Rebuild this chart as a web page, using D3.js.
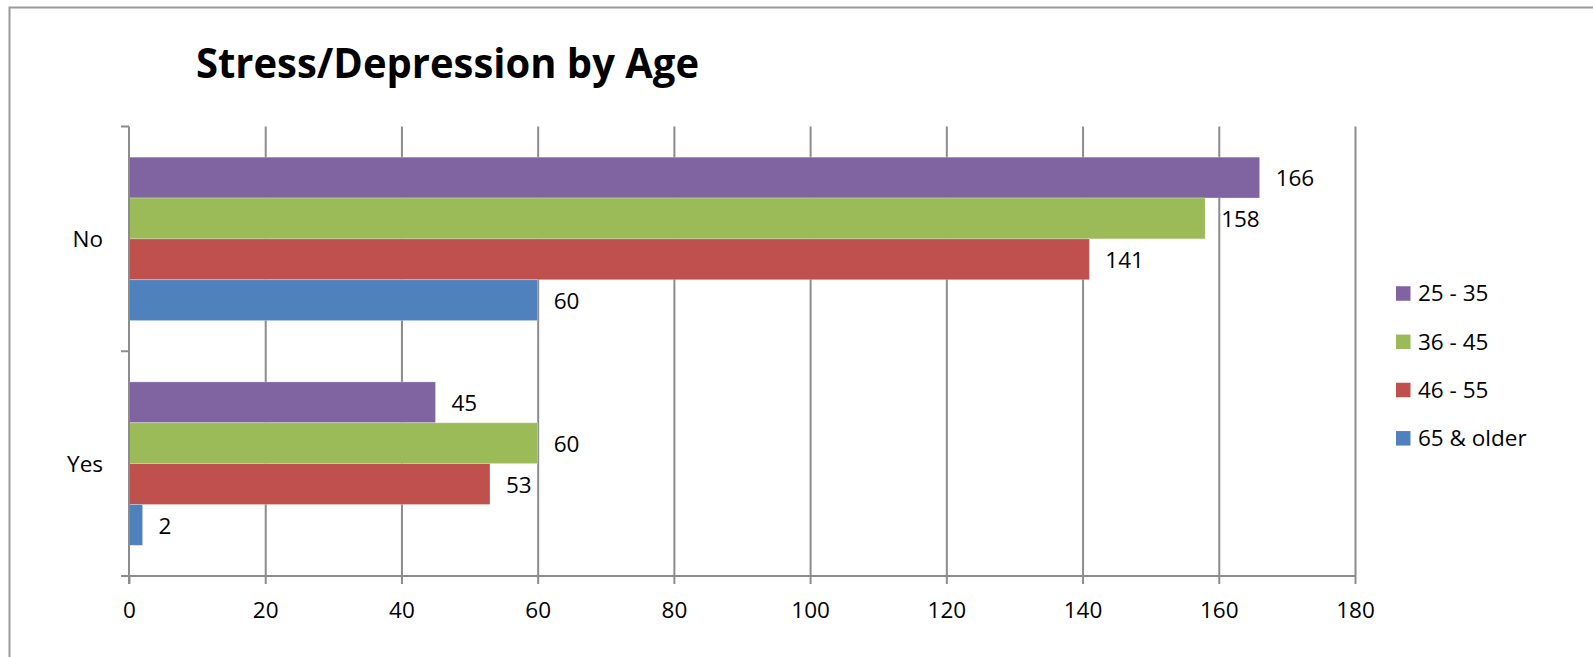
<!DOCTYPE html>
<html>
<head>
<meta charset="utf-8">
<script src="https://cdn.jsdelivr.net/npm/d3@7"></script>
<style>
  html, body { margin: 0; padding: 0; background: #fff; }
  svg { display: block; }
  text { font-family: "Open Sans", "DejaVu Sans", sans-serif; fill: #000; }
</style>
</head>
<body>
<svg id="chart" width="1593" height="657"></svg>
<script>
const title = "Stress/Depression by Age";
const categories = ["No", "Yes"];
const seriesNames = ["25 - 35", "36 - 45", "46 - 55", "65 & older"];
const seriesColors = ["#8064A2", "#9BBB59", "#C0504D", "#4F81BD"];
const values_25_35 = [166, 45];
const values_36_45 = [158, 60];
const values_46_55 = [141, 53];
const values_65_older = [60, 2];
const xTicks = [0, 20, 40, 60, 80, 100, 120, 140, 160, 180];

const seriesValues = [values_25_35, values_36_45, values_46_55, values_65_older];

const W = 1593, H = 657;
const FS = 22.5;
const plot = { left: 129, right: 1355, top: 126.5, bottom: 576 };
const svg = d3.select("#chart");

svg.append("rect").attr("width", W).attr("height", H).attr("fill", "#fff");

// outer frame (top and left edges visible)
svg.append("path")
  .attr("d", `M9.5,${H} L9.5,7.5 L${W},7.5`)
  .attr("fill", "none").attr("stroke", "#9a9a9a").attr("stroke-width", 2);

// title
const t = svg.append("text")
  .attr("x", 196).attr("y", 78)
  .attr("font-weight", "bold").attr("font-size", 41)
  .text(title);
const tw = t.node().getComputedTextLength();
if (Math.abs(tw - 503) > 6) t.attr("textLength", 503).attr("lengthAdjust", "spacingAndGlyphs");

const x = d3.scaleLinear().domain([0, 180]).range([plot.left, plot.right]);
const y = d3.scaleBand().domain(categories).range([plot.top, plot.bottom]);
const barH = y.bandwidth() / 5.5;
const inner = d3.scaleBand().domain(seriesNames)
  .range([0.75 * barH, 0.75 * barH + 4 * barH]);

const gridColor = "#8c8c8c";

// vertical gridlines
svg.append("g")
  .attr("transform", `translate(0,${plot.bottom})`)
  .call(d3.axisBottom(x).tickValues(xTicks.slice(1)).tickSize(-(plot.bottom - plot.top)).tickFormat(""))
  .call(g => g.select(".domain").remove())
  .call(g => g.selectAll("line").attr("stroke", gridColor).attr("stroke-width", 2));

// bars
seriesNames.forEach((s, si) => {
  svg.append("g").selectAll("rect")
    .data(categories.map((c, ci) => ({ c, v: seriesValues[si][ci] })))
    .join("rect")
    .attr("x", x(0))
    .attr("y", d => y(d.c) + inner(s))
    .attr("width", d => x(d.v) - x(0))
    .attr("height", inner.bandwidth())
    .attr("fill", seriesColors[si])
    .attr("stroke", "rgba(255,255,255,0.35)")
    .attr("stroke-width", 0.8);
});

// x axis
const xAxis = svg.append("g")
  .attr("transform", `translate(0,${plot.bottom})`)
  .call(d3.axisBottom(x).tickValues(xTicks).tickSize(8).tickPadding(18).tickFormat(d3.format("d")));
xAxis.select(".domain").attr("stroke", gridColor).attr("stroke-width", 2)
  .attr("d", `M${plot.left},0H${plot.right}`);
xAxis.selectAll("line").attr("stroke", gridColor).attr("stroke-width", 2);
xAxis.selectAll("text").attr("font-size", FS).attr("fill", "#000")
  .attr("font-family", "'Open Sans', sans-serif");

// y axis (line with ticks at category boundaries)
const yAxisG = svg.append("g");
yAxisG.append("line")
  .attr("x1", plot.left).attr("x2", plot.left)
  .attr("y1", plot.top).attr("y2", plot.bottom + 8)
  .attr("stroke", gridColor).attr("stroke-width", 2);
const boundaries = categories.map(c => y(c)).concat([plot.bottom]);
yAxisG.selectAll("line.tk").data(boundaries).join("line").attr("class", "tk")
  .attr("x1", plot.left - 8).attr("x2", plot.left)
  .attr("y1", d => d).attr("y2", d => d)
  .attr("stroke", gridColor).attr("stroke-width", 2);
yAxisG.selectAll("text").data(categories).join("text")
  .attr("x", 103).attr("y", d => y(d) + y.bandwidth() / 2)
  .attr("dy", "0.35em").attr("text-anchor", "end").attr("font-size", FS)
  .text(d => d);

// data labels
seriesNames.forEach((s, si) => {
  svg.append("g").selectAll("text")
    .data(categories.map((c, ci) => ({ c, v: seriesValues[si][ci] })))
    .join("text")
    .attr("x", d => x(d.v) + 16)
    .attr("y", d => y(d.c) + inner(s) + inner.bandwidth() / 2 + 1)
    .attr("dy", "0.35em").attr("font-size", FS)
    .text(d => d.v);
});

// legend
const legend = svg.append("g");
const legY = [293.5, 341.8, 390, 438.3];
seriesNames.forEach((s, i) => {
  legend.append("rect")
    .attr("x", 1396).attr("y", legY[i] - 7.25)
    .attr("width", 14.5).attr("height", 14.5)
    .attr("fill", seriesColors[i]);
  legend.append("text")
    .attr("x", 1418).attr("y", legY[i])
    .attr("dy", "0.35em").attr("font-size", FS)
    .text(s);
});
</script>
</body>
</html>
